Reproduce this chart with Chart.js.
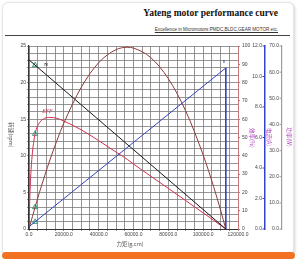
<!DOCTYPE html>
<html><head><meta charset="utf-8">
<script src="https://cdn.jsdelivr.net/npm/chart.js@4"></script>
<style>
html,body{margin:0;padding:0;background:#fff;width:300px;height:264px;overflow:hidden;position:relative;font-family:"Liberation Sans",Arial,sans-serif}
#card{position:absolute;left:2px;top:2px;width:290px;height:252px;border:1px solid #e6e6e6;border-radius:6px;box-shadow:1px 1px 3px rgba(0,0,0,0.18);background:#fff}
#bar{position:absolute;left:2px;top:252px;width:293px;height:7px;background:#f27222;border-radius:4px}
#title{position:absolute;right:22px;top:8px;font:bold 9.5px "Liberation Serif",serif;color:#111;white-space:nowrap}
#sub{position:absolute;right:22px;top:27px;font:4.6px "Liberation Sans",Arial,sans-serif;color:#333;text-decoration:underline;white-space:nowrap}
#rule{position:absolute;left:5px;top:35px;width:285px;height:1px;background:#444}
canvas{position:absolute;left:0;top:0}
</style></head>
<body>
<div id="card"></div>
<div id="bar"></div>
<div id="title">Yateng motor performance curve</div>
<div id="sub">Excellence in Micromotors:PMDC,BLDC,GEAR MOTOR etc.</div>
<div id="rule"></div>
<canvas id="c" width="300" height="264"></canvas>
<script>
// ---- data ----
const torque = [0, 300, 700, 1200, 2000, 3500, 6000, 9000, 12000, 16000, 20000, 30000, 40000, 50000, 56500, 60000, 70000, 80000, 90000, 100000, 106000, 110000, 113000];
const efficiency = [0, 12, 23, 32.5, 42, 52, 58, 60.5, 61, 60.5, 59, 54.2, 48.3, 42, 38, 35.5, 28.8, 22.2, 15.5, 8.8, 4.8, 2.0, 0];
const power = [0, 0.73, 1.71, 2.92, 4.83, 8.35, 13.98, 20.37, 26.39, 33.79, 40.5, 54.2, 63.6, 68.6, 69.5, 69.2, 65.5, 57.5, 45.1, 28.3, 16.2, 7.2, 0];
const speedTorque = [0, 113000];
const speed = [23.1, 0];
const currentTorque = [0, 113000, 113000];
const current = [0.15, 10.56, 0];
const ratedTorque = 3500;
const ratedSpeed = 22.38, ratedEff = 52, ratedPower = 8.35, ratedCurrent = 0.47;
const peakTorque = 56500, peakPower = 70.3;
const xTicksLabelEvery = 20000;

const pts = (xs, ys) => xs.map((x, i) => ({x, y: ys[i]}));
const tickFont = {size: 5, family: '"Liberation Sans", Arial, sans-serif'};
const tri = (x, y, axis) => ({type: 'scatter', yAxisID: axis, data: [{x, y}], pointStyle: 'triangle', pointRadius: 3, borderColor: '#2e9a7a', backgroundColor: 'rgba(0,0,0,0)', borderWidth: 1, showLine: false});

const textPlugin = {
  id: 'texts',
  afterDraw(chart) {
    const c = chart.ctx, s = chart.scales;
    c.save();
    // tick labels of the two outer axes, placed on the left of their axis line
    ['yI', 'yP'].forEach(id => {
      const sc = s[id];
      c.font = '5px "Liberation Sans", Arial, sans-serif';
      c.fillStyle = '#444'; c.textAlign = 'right'; c.textBaseline = 'middle';
      c.strokeStyle = sc.options.border.color; c.lineWidth = 1;
      sc.ticks.forEach(t => {
        const y = sc.getPixelForValue(t.value);
        c.beginPath(); c.moveTo(sc.left - 2.5, y); c.lineTo(sc.left, y); c.stroke();
        c.fillText(t.value.toFixed(1), sc.left - 3, y);
      });
    });
    const cjk = '"Noto Sans CJK SC", sans-serif';
    function rot(t, x, y, col) {
      c.save(); c.translate(x, y); c.rotate(Math.PI / 2);
      c.fillStyle = col; c.font = '5.5px ' + cjk; c.textAlign = 'center'; c.textBaseline = 'middle';
      c.fillText(t, 0, 0); c.restore();
    }
    rot('转速(rpm)', 11, 135, '#555');
    rot('效率(%)', 252, 138, '#b03cc0');
    rot('电流(A)', 269, 137, '#b03cc0');
    rot('功率(W)', 289, 137, '#b03cc0');
    c.fillStyle = '#555'; c.font = '5.5px ' + cjk; c.textAlign = 'center'; c.textBaseline = 'middle';
    c.fillText('力矩(g.cm)', 130, 244);
    c.font = 'bold 5px "Liberation Serif", serif';
    c.fillStyle = '#222';
    c.fillText('N', s.x.getPixelForValue(9800), s.y.getPixelForValue(22.4));
    c.fillStyle = '#c0304a'; c.font = 'italic 5.5px "Liberation Serif", serif';
    c.fillText('EFF', s.x.getPixelForValue(10500), s.yE.getPixelForValue(64));
    c.fillStyle = '#223399'; c.font = 'bold 5px "Liberation Serif", serif';
    c.fillText('I', s.x.getPixelForValue(112000), s.yI.getPixelForValue(11));
    c.restore();
  }
};

new Chart(document.getElementById('c'), {
  type: 'line',
  data: {
    datasets: [
      {data: pts(speedTorque, speed), yAxisID: 'y', borderColor: '#1a1a1a', borderWidth: 1, pointRadius: 0, tension: 0},
      {data: pts(currentTorque, current), yAxisID: 'yI', borderColor: '#3344bb', borderWidth: 1, pointRadius: 0, tension: 0},
      {data: pts(torque, power), yAxisID: 'yP', borderColor: '#8e3a3a', borderWidth: 1, pointRadius: 0, cubicInterpolationMode: 'monotone'},
      {data: pts(torque, efficiency), yAxisID: 'yE', borderColor: '#d03050', borderWidth: 1, pointRadius: 0, cubicInterpolationMode: 'monotone'},
      tri(ratedTorque, ratedSpeed, 'y'),
      tri(ratedTorque, ratedEff, 'yE'),
      tri(ratedTorque, ratedPower, 'yP'),
      tri(ratedTorque, ratedCurrent, 'yI'),
      {type: 'scatter', yAxisID: 'yP', data: [{x: peakTorque, y: peakPower}], pointStyle: 'cross', pointRadius: 2, borderColor: '#d03050', borderWidth: 1}
    ]
  },
  options: {
    responsive: false, animation: false,
    layout: {padding: {top: 46, left: 0, right: 0, bottom: 0}},
    plugins: {legend: {display: false}, tooltip: {enabled: false}},
    scales: {
      x: {type: 'linear', position: 'bottom', min: 0, max: 120000,
        ticks: {stepSize: 5000, autoSkip: false, maxRotation: 0, font: tickFont, color: '#444', padding: 1,
          callback: v => (v % xTicksLabelEvery === 0 ? v.toFixed(1) : '')},
        grid: {color: '#7a7a7a', lineWidth: 0.8, tickLength: 2},
        border: {color: '#333', width: 1},
        afterFit: s => { s.height = 35; }},
      y: {position: 'left', min: 0, max: 25,
        ticks: {stepSize: 1, autoSkip: false, font: tickFont, color: '#444', padding: 1,
          callback: v => (v % 5 === 0 ? String(v) : '')},
        grid: {color: '#7a7a7a', lineWidth: 0.8, tickLength: 2},
        border: {color: '#333', width: 1.2},
        afterFit: s => { s.width = 29; }},
      yE: {position: 'right', min: 0, max: 100,
        ticks: {stepSize: 10, autoSkip: false, font: tickFont, color: '#444', padding: 2},
        grid: {drawOnChartArea: false, tickLength: 2, color: '#c87878'},
        border: {color: '#c87878', width: 1},
        afterFit: s => { s.width = 27; }},
      yI: {position: 'right', min: 0, max: 12,
        ticks: {stepSize: 2, autoSkip: false, display: false},
        grid: {drawOnChartArea: false, drawTicks: false},
        border: {color: '#3344cc', width: 1.5},
        afterFit: s => { s.width = 17; }},
      yP: {position: 'right', min: 0, max: 70,
        ticks: {stepSize: 10, autoSkip: false, display: false},
        grid: {drawOnChartArea: false, drawTicks: false},
        border: {color: '#a89898', width: 1.2},
        afterFit: s => { s.width = 18; }}
    }
  },
  plugins: [textPlugin]
});
</script>
</body></html>
